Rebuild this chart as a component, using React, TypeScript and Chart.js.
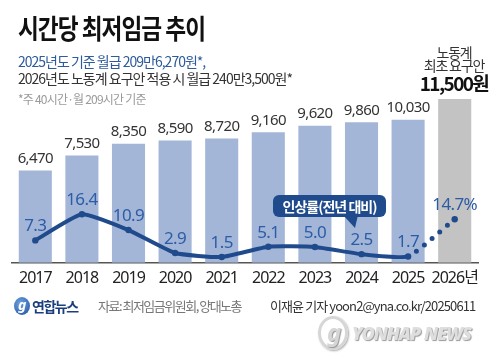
import React, { useEffect, useRef } from "react";
import { Chart, registerables } from "chart.js";

Chart.register(...registerables);

const years = ["2017", "2018", "2019", "2020", "2021", "2022", "2023", "2024", "2025", "2026년"];
const wages = [6470, 7530, 8350, 8590, 8720, 9160, 9620, 9860, 10030, 11500];
const rates = [7.3, 16.4, 10.9, 2.9, 1.5, 5.1, 5.0, 2.5, 1.7, 14.7];
const rateLabels = ["7.3", "16.4", "10.9", "2.9", "1.5", "5.1", "5.0", "2.5", "1.7", "14.7%"];

const BLUE_BAR = "#a3b6d8";
const GRAY_BAR = "#c3c3c3";
const LINE = "#1f4b8c";
const RATE_TXT = "#2c5ca6";
const FONT = '"Noto Sans", "Noto Sans CJK KR", sans-serif';
const KFONT = '"Noto Sans CJK KR", "Noto Sans", sans-serif';

const labelPlugin = {
  id: "labels",
  beforeDraw(chart: any) {
    chart.ctx.letterSpacing = "-1px";
  },
  afterDatasetsDraw(chart: any) {
    const ctx = chart.ctx;
    ctx.save();
    ctx.textAlign = "center";
    ctx.textBaseline = "middle";
    const barMeta = chart.getDatasetMeta(0);
    ctx.font = `15px ${FONT}`;
    ctx.letterSpacing = "-0.6px";
    ctx.fillStyle = "#333";
    barMeta.data.forEach((el: any, i: number) => {
      if (i === wages.length - 1) return;
      ctx.fillText(wages[i].toLocaleString("en-US"), el.x, el.y - 12);
    });
    const lineMeta = chart.getDatasetMeta(1);
    ctx.font = `17px ${FONT}`;
    ctx.letterSpacing = "-0.6px";
    ctx.fillStyle = RATE_TXT;
    lineMeta.data.forEach((el: any, i: number) => {
      ctx.fillText(rateLabels[i], el.x, el.y - 14);
    });
    ctx.restore();
  },
};

function App() {
  const ref = useRef<HTMLCanvasElement>(null);
  useEffect(() => {
    const chart = new Chart(ref.current as HTMLCanvasElement, {
      data: {
        labels: years,
        datasets: [
          {
            type: "bar",
            data: wages,
            backgroundColor: wages.map((_, i) => (i === wages.length - 1 ? GRAY_BAR : BLUE_BAR)),
            barPercentage: 0.71,
            categoryPercentage: 1,
            yAxisID: "y",
            order: 2,
          },
          {
            type: "line",
            data: rates,
            yAxisID: "y2",
            borderColor: LINE,
            borderWidth: 4,
            borderCapStyle: "round",
            borderJoinStyle: "round",
            tension: 0.15,
            pointRadius: 3.2,
            pointBackgroundColor: LINE,
            pointBorderWidth: 0,
            order: 1,
            segment: {
              borderDash: (c: any) => (c.p0DataIndex === 8 ? [0, 10] : undefined),
              borderWidth: (c: any) => (c.p0DataIndex === 8 ? 5 : undefined),
            },
          } as any,
        ],
      },
      options: {
        responsive: false,
        animation: false,
        layout: { padding: { left: 12, right: 22, top: 90, bottom: 70 } },
        plugins: { legend: { display: false }, tooltip: { enabled: false } },
        scales: {
          x: {
            grid: { display: false, drawTicks: false },
            border: { display: true, color: "#555", width: 1.5 },
            ticks: { color: "#222", font: { size: 16, family: FONT }, padding: 6, maxRotation: 0, autoSkip: false },
          },
          y: { display: false, min: 0, max: 12126 },
          y2: { display: false, min: -0.52, max: 59.77 },
        },
      } as any,
      plugins: [labelPlugin],
    });
    return () => chart.destroy();
  }, []);

  const abs = (s: React.CSSProperties): React.CSSProperties => ({ position: "absolute", whiteSpace: "nowrap", margin: 0, ...s });

  return (
    <div style={{ position: "absolute", left: 0, top: 0, width: 500, height: 364, background: "#fff", overflow: "hidden", fontFamily: KFONT }}>
      <canvas ref={ref} width={500} height={364} style={{ position: "absolute", left: 0, top: 0 }} />
      <div style={abs({ left: 18, top: 12, fontSize: 27, fontWeight: 700, letterSpacing: -1.2, color: "#111", lineHeight: "32px", transform: "scaleX(0.84)", transformOrigin: "left center" })}>시간당 최저임금 추이</div>
      <div style={abs({ left: 18, top: 51, fontSize: 14, letterSpacing: -1, color: "#2d5b9b", lineHeight: "20px" })}>2025년도 기준 월급 209만6,270원*,</div>
      <div style={abs({ left: 18, top: 68, fontSize: 14, letterSpacing: -1, color: "#333", lineHeight: "20px" })}>2026년도 노동계 요구안 적용 시 월급 240만3,500원*</div>
      <div style={abs({ left: 18, top: 91, fontSize: 12, letterSpacing: -0.8, color: "#9a9a9a", lineHeight: "16px" })}>*주 40시간·월 209시간 기준</div>

      <div style={abs({ left: 404, width: 100, top: 43, textAlign: "center", fontSize: 14, letterSpacing: -1.2, color: "#333", lineHeight: "18px" })}>노동계</div>
      <div style={abs({ left: 404, width: 100, top: 56, textAlign: "center", fontSize: 14, letterSpacing: -1.2, color: "#333", lineHeight: "18px" })}>최초 요구안</div>
      <div style={abs({ left: 404, width: 100, top: 71, textAlign: "center", fontSize: 19, fontWeight: 700, letterSpacing: -1.6, color: "#111", lineHeight: "24px" })}>11,500원</div>

      <div style={abs({ left: 273, top: 195, width: 113, height: 22, borderRadius: 6, background: LINE, color: "#fff", fontSize: 14, fontWeight: 700, letterSpacing: -1, lineHeight: "22px", textAlign: "center" })}>인상률(전년 대비)</div>
      <svg width="20" height="16" style={{ position: "absolute", left: 341, top: 215 }}>
        <polygon points="2,0 17,0 14,13" fill={LINE} />
      </svg>

      <div style={abs({ left: 14, top: 297, width: 16, height: 18, borderRadius: "50%", background: "radial-gradient(circle at 40% 35%, #6fa2e0, #1c4f9c)" })}>
        <span style={{ position: "absolute", left: 4, top: -2, fontSize: 14, fontStyle: "italic", fontWeight: 700, color: "#fff", fontFamily: FONT }}>g</span>
      </div>
      <div style={abs({ left: 32, top: 296, fontSize: 14, fontWeight: 700, letterSpacing: -1.5, color: "#1b3f7d", lineHeight: "20px" })}>연합뉴스</div>
      <div style={abs({ left: 98, top: 297, fontSize: 13, letterSpacing: -1.5, color: "#777", lineHeight: "18px" })}>자료: 최저임금위원회, 양대노총</div>
      <div style={abs({ left: 270, top: 297, fontSize: 13, letterSpacing: -0.9, color: "#333", lineHeight: "18px" })}>이재윤 기자 yoon2@yna.co.kr/20250611</div>

      <div style={abs({ left: 318, top: 316, width: 30, height: 34, borderRadius: "50%", border: "3px solid #d6d6d6", boxSizing: "border-box", boxShadow: "1px 1px 2px #aaa" })}>
        <span style={{ position: "absolute", left: 6, top: -4, fontSize: 24, fontStyle: "italic", fontWeight: 700, color: "#d6d6d6", fontFamily: FONT, textShadow: "1px 1px 1px #999" }}>g</span>
      </div>
      <div style={abs({ left: 352, top: 322, fontSize: 18, fontStyle: "italic", fontWeight: 900, letterSpacing: -1, color: "#dedede", fontFamily: FONT, lineHeight: "22px", textShadow: "1px 1px 1px #9a9a9a" })}>YONHAP NEWS</div>
    </div>
  );
}

export default App;
